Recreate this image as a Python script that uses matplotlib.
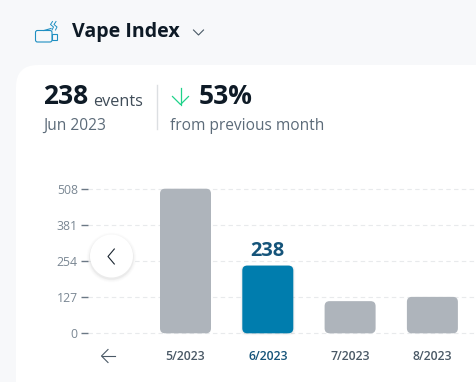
import matplotlib
matplotlib.use("Agg")
import matplotlib.pyplot as plt
from matplotlib.patches import FancyBboxPatch, Circle, Rectangle

plt.rcParams['font.family'] = ['Open Sans', 'Noto Sans', 'DejaVu Sans']

# data
meses = ["5/2023", "6/2023", "7/2023", "8/2023"]
eventos = [508, 238, 113, 128]
ativo = 1
y_ticks = [0, 127, 254, 381, 508]

W, H = 476, 382
ESCURO = "#0e1a26"
CINZA = "#5c6b79"
AZUL = "#007dae"
AZUL_ESCURO = "#15547a"

fig = plt.figure(figsize=(W / 100, H / 100), dpi=100, facecolor="#f7f8fa")

# camada de fundo / textos em pixels
fundo = fig.add_axes([0, 0, 1, 1], zorder=0)
fundo.set_xlim(0, W)
fundo.set_ylim(H, 0)
fundo.axis("off")
fundo.add_patch(FancyBboxPatch((16, 65), 520, 400, boxstyle="round,pad=0,rounding_size=22",
                               fc="white", ec="none"))

# grafico
esq, dir_, topo, base = 88, 476, 188.7, 333.3
ax = fig.add_axes([esq / W, 1 - base / H, (dir_ - esq) / W, (base - topo) / H], zorder=1)
ax.patch.set_alpha(0)
passo = 82.3
ax.set_xlim((esq - 185.5) / passo, (dir_ - 185.5) / passo)
ax.set_ylim(0, 508)
for s in ax.spines.values():
    s.set_visible(False)

ax.set_yticks(y_ticks)
ax.tick_params(axis="y", length=5, width=1, color="#6b7885", labelcolor="#7a8793", labelsize=8.8, pad=2.3)
ax.yaxis.grid(True, color="#e8eaec", linestyle=(0, (4, 3)), linewidth=0.8, clip_on=False)
ax.set_axisbelow(True)

ax.set_xticks(range(len(meses)))
ax.set_xticklabels(meses)
ax.tick_params(axis="x", length=0, pad=12, labelsize=8.8)
for i, lab in enumerate(ax.get_xticklabels()):
    lab.set_color(AZUL_ESCURO if i == ativo else "#4a5966")
    lab.set_fontweight("semibold")

largura = 51 / passo
ux = 1 / passo
uy = 508 / (base - topo)
for i, v in enumerate(eventos):
    if i == ativo:
        for k, a in [(2.0, 0.025), (1.0, 0.04)]:
            ax.add_patch(FancyBboxPatch((i - largura / 2 - k * ux, -k * uy), largura + 2 * k * ux, v + k * uy,
                                        boxstyle=f"round,pad=0,rounding_size={5 * ux}",
                                        mutation_aspect=uy / ux, fc="black", ec="none", alpha=a,
                                        clip_on=False, zorder=2))
    ax.add_patch(FancyBboxPatch((i - largura / 2, 0), largura, v,
                                boxstyle=f"round,pad=0,rounding_size={5 * ux}",
                                mutation_aspect=uy / ux,
                                fc=AZUL if i == ativo else "#aeb4bb", ec="none",
                                clip_on=False, zorder=3))
ax.text(ativo, eventos[ativo] + 16, str(eventos[ativo]), ha="center", va="bottom",
        fontsize=14.4, fontweight="bold", color=AZUL_ESCURO)

# sobreposicao
ov = fig.add_axes([0, 0, 1, 1], zorder=2)
ov.set_xlim(0, W)
ov.set_ylim(H, 0)
ov.axis("off")

# cabecalho
ov.text(72, 32, "Vape Index", fontsize=14.1, fontweight="bold", color=ESCURO, va="center")
ov.plot([193.5, 198.5, 203.5], [30, 35, 30], color="#4a5966", lw=0.8)

# icone
ICONE = "#1f8fc2"
ov.add_patch(FancyBboxPatch((35.5, 30.5), 16.5, 11.5, boxstyle="round,pad=0,rounding_size=2",
                            fc="none", ec=ICONE, lw=0.8))
ov.add_patch(Rectangle((52, 33.5), 4.5, 6.5, fc="none", ec=ICONE, lw=0.8))
ov.plot([44, 51], [30.5, 28.5], color=ICONE, lw=0.8)
ov.plot([52.5, 50.5, 53.5, 52], [21.5, 24.5, 27, 30], color=ICONE, lw=0.7)
ov.plot([56, 54, 57, 55.5], [21.5, 24.5, 27, 30], color=ICONE, lw=0.7)

# resumo
ov.text(43, 97, "238", fontsize=19, fontweight="bold", color=ESCURO, va="center")
ov.text(93, 102, "events", fontsize=11.7, color="#3f4c58", va="center")
ov.text(43, 125.5, "Jun 2023", fontsize=11.2, color=CINZA, va="center")
ov.plot([156.5, 156.5], [85, 129], color="#dcdfe2", lw=1)
ov.plot([180.5, 180.5], [88, 104.5], color="#1fd38a", lw=0.9)
ov.plot([172.5, 180.5, 188.5], [96.5, 104.5, 96.5], color="#1fd38a", lw=0.9)
ov.text(199, 97, "53%", fontsize=19, fontweight="bold", color=ESCURO, va="center")
ov.text(170, 125.5, "from previous month", fontsize=11.2, color=CINZA, va="center")

# botao voltar
for r, a in [(25, 0.012), (24, 0.015), (23, 0.02), (22.3, 0.03)]:
    ov.add_patch(Circle((111.5, 257.5), r, fc="black", ec="none", alpha=a))
ov.add_patch(Circle((111.5, 256), 21.5, fc="white", ec="none"))
ov.plot([114.3, 108, 114.3], [249, 256.5, 264], color="#1a2530", lw=0.8)

# seta embaixo
ov.plot([101.5, 114.5], [356, 356], color="#4a5966", lw=0.8)
ov.plot([108, 101.5, 108], [349.5, 356, 362.5], color="#4a5966", lw=0.8)

fig.savefig("out.png", dpi=100, facecolor=fig.get_facecolor())
